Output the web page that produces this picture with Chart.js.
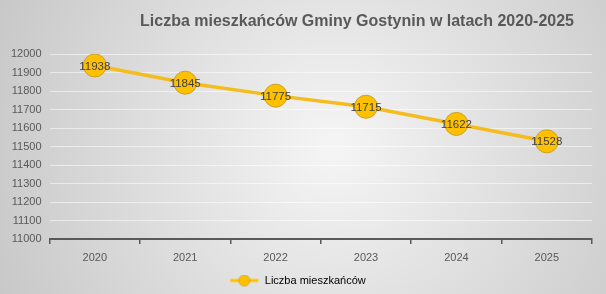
<!DOCTYPE html>
<html>
<head>
<meta charset="utf-8">
<script src="https://cdn.jsdelivr.net/npm/chart.js@4"></script>
<style>
  body { margin: 0; background: #fff; }
  #wrap { width: 606px; height: 294px; }
</style>
</head>
<body>
<div id="wrap"><canvas id="myChart" width="606" height="294"></canvas></div>
<script>
const lata = ['2020', '2021', '2022', '2023', '2024', '2025'];
const mieszkancy = [11938, 11845, 11775, 11715, 11622, 11528];
const tytul = 'Liczba mieszkańców Gminy Gostynin w latach 2020-2025';
const etykietaSerii = 'Liczba mieszkańców';

const FONT = '"Liberation Sans", Arial, sans-serif';

// szare tlo z jasnym srodkiem
const tloPlugin = {
    id: 'tlo',
    beforeDraw(chart) {
        const c = chart.ctx;
        const w = chart.width, h = chart.height;
        c.save();
        const g = c.createRadialGradient(w * 0.55, h * 0.5, 10, w * 0.55, h * 0.5, w * 0.6);
        g.addColorStop(0, '#f4f4f4');
        g.addColorStop(1, '#c8c8c8');
        c.fillStyle = g;
        c.fillRect(0, 0, w, h);
        c.restore();
    }
};

const tytulPlugin = {
    id: 'tytul',
    afterDraw(chart) {
        const c = chart.ctx;
        c.save();
        c.font = 'bold 16px ' + FONT;
        c.fillStyle = '#595959';
        c.textAlign = 'center';
        c.textBaseline = 'middle';
        c.fillText(tytul, 357, 22);
        c.restore();
    }
};

const etykietyPlugin = {
    id: 'etykiety',
    afterDatasetsDraw(chart) {
        const c = chart.ctx;
        const meta = chart.getDatasetMeta(0);
        c.save();
        c.font = '11.5px ' + FONT;
        c.fillStyle = '#404040';
        c.textAlign = 'center';
        c.textBaseline = 'middle';
        meta.data.forEach((pt, i) => {
            c.fillText(mieszkancy[i], pt.x, pt.y + 1);
        });
        c.restore();
    }
};

// ikonka legendy: linia z kolkiem
const ikona = document.createElement('canvas');
ikona.width = 30;
ikona.height = 14;
{
    const c = ikona.getContext('2d');
    c.strokeStyle = '#FFC000';
    c.lineWidth = 3;
    c.beginPath();
    c.moveTo(1, 7);
    c.lineTo(29, 7);
    c.stroke();
    c.beginPath();
    c.arc(15, 7, 5.5, 0, Math.PI * 2);
    c.fillStyle = '#FFC000';
    c.fill();
    c.strokeStyle = '#C9A227';
    c.lineWidth = 0.8;
    c.stroke();
}

const ctx = document.getElementById('myChart');

const chart = new Chart(ctx, {
    type: 'line',
    data: {
        labels: lata,
        datasets: [{
            label: etykietaSerii,
            data: mieszkancy,
            borderColor: '#F5BC1E',
            borderWidth: 3.5,
            pointRadius: 11.5,
            pointHoverRadius: 11.5,
            pointBackgroundColor: '#FFC000',
            pointBorderColor: '#C9A227',
            pointBorderWidth: 1,
            pointStyle: 'circle',
            tension: 0
        }]
    },
    options: {
        responsive: false,
        animation: false,
        layout: {
            padding: { top: 54, right: 14, left: 3, bottom: -2 }
        },
        plugins: {
            title: { display: false },
            tooltip: { enabled: false },
            legend: {
                position: 'bottom',
                labels: {
                    usePointStyle: true,
                    pointStyleWidth: 30,
                    boxWidth: 30,
                    color: '#595959',
                    font: { size: 11, family: FONT },
                    padding: 0,
                    generateLabels() {
                        return [{
                            text: etykietaSerii,
                            pointStyle: ikona,
                            fillStyle: '#FFC000',
                            strokeStyle: '#FFC000',
                            lineWidth: 0,
                            datasetIndex: 0
                        }];
                    }
                }
            }
        },
        scales: {
            x: {
                offset: true,
                grid: {
                    offset: true,
                    drawOnChartArea: false,
                    drawTicks: true,
                    tickLength: 5,
                    color: '#595959',
                    lineWidth: 1.5
                },
                border: { display: true, color: '#595959', width: 2 },
                ticks: {
                    color: '#595959',
                    font: { size: 11, family: FONT },
                    padding: 7
                },
                afterFit(scale) {
                    scale.height = 36;
                }
            },
            y: {
                min: 11000,
                max: 12000,
                ticks: {
                    stepSize: 100,
                    color: '#595959',
                    font: { size: 11, family: FONT },
                    padding: 8,
                    callback: v => String(v)
                },
                grid: {
                    color: 'rgba(255,255,255,0.55)',
                    drawTicks: false
                },
                border: { display: false }
            }
        }
    },
    plugins: [tloPlugin, tytulPlugin, etykietyPlugin]
});
</script>
</body>
</html>
